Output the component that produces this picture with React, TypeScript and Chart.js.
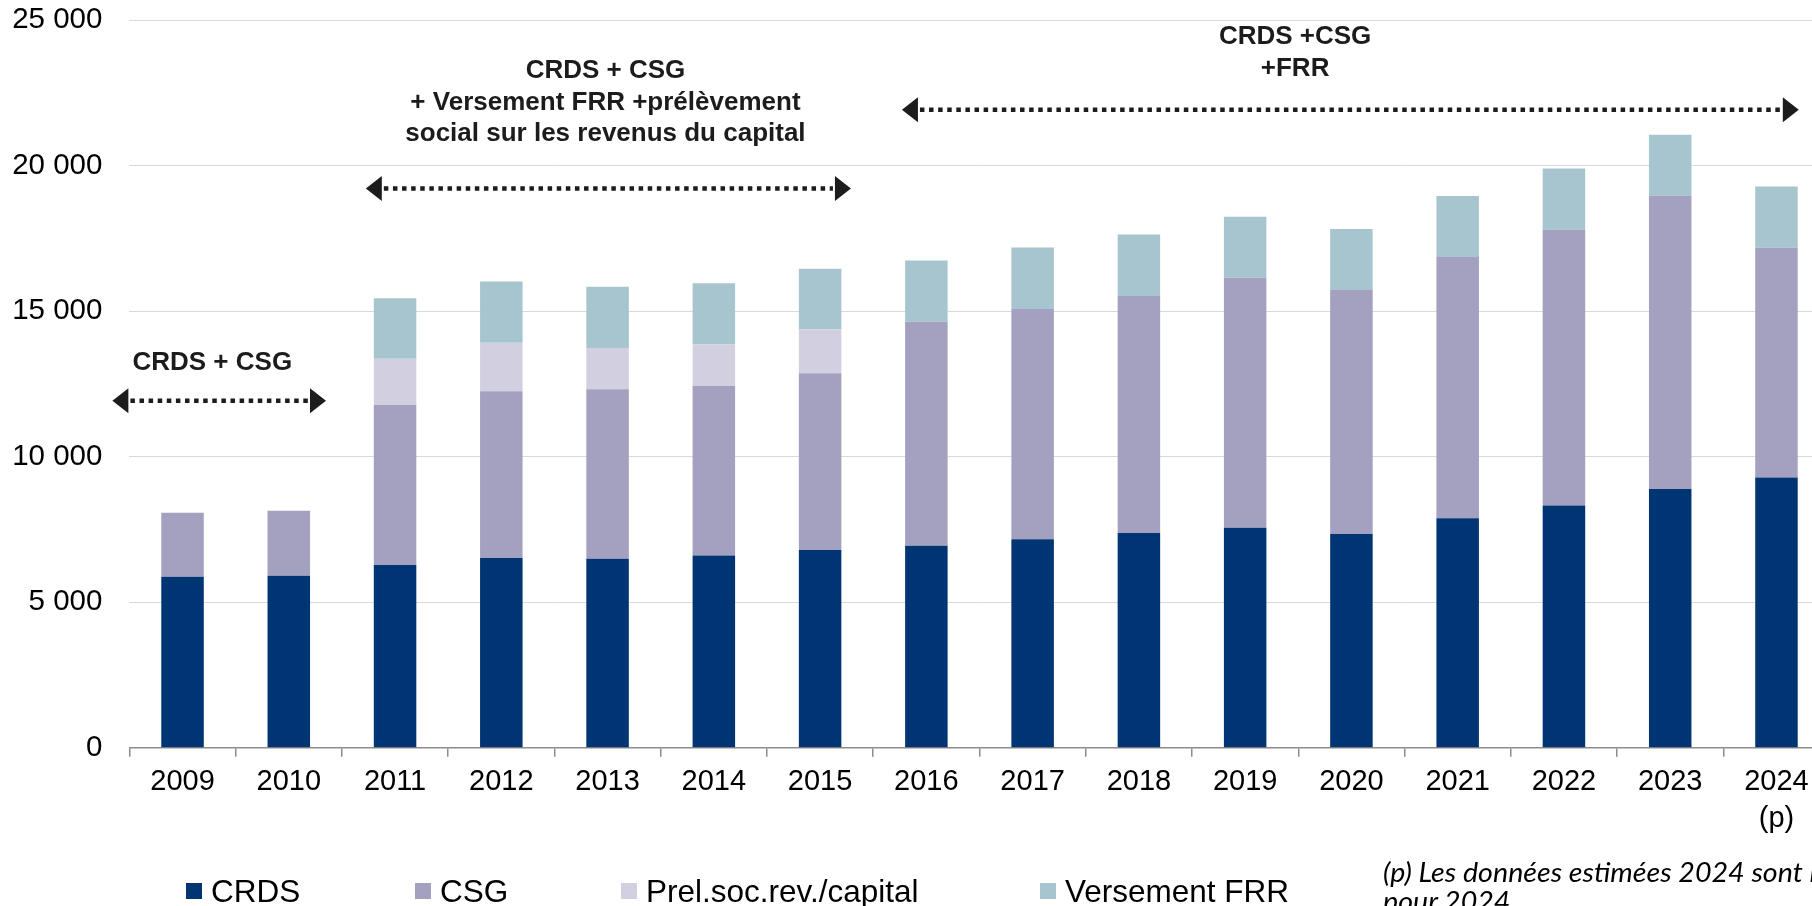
import { useEffect, useRef } from 'react';
import { Chart, registerables } from 'chart.js';

Chart.register(...registerables);

// ---- Data ----
const tickLabels: (string | string[])[] = [
  '2009', '2010', '2011', '2012', '2013', '2014', '2015', '2016',
  '2017', '2018', '2019', '2020', '2021', '2022', '2023', ['2024', '(p)'],
];
const crds = [5880, 5910, 6280, 6520, 6500, 6610, 6800, 6940, 7170, 7380, 7560, 7350, 7890, 8330, 8890, 9290];
const csg = [2200, 2235, 5500, 5730, 5820, 5820, 6070, 7700, 7910, 8150, 8590, 8380, 8980, 9480, 10080, 7890];
const prelCapital = [null, null, 1590, 1670, 1420, 1440, 1510, null, null, null, null, null, null, null, null, null];
const versementFRR = [null, null, 2080, 2100, 2100, 2090, 2080, 2110, 2110, 2110, 2100, 2100, 2090, 2100, 2100, 2110];
const seriesNames = ['CRDS', 'CSG', 'Prel.soc.rev./capital', 'Versement FRR'];
const seriesColors = ['#003573', '#A3A0C0', '#D2D0E0', '#A7C5CE'];
const yTickValues = [0, 5000, 10000, 15000, 20000, 25000];

// annotation texts (anchored in category index / value coordinates)
const noteTexts = [
  { lines: ['CRDS + CSG'], at: 0.28, value: 13290 },
  { lines: ['CRDS + CSG', '+ Versement FRR +prélèvement', 'social sur les revenus du capital'], at: 3.98, value: 23330 },
  { lines: ['CRDS +CSG', '+FRR'], at: 10.47, value: 24490 },
];
const noteArrows = [
  { from: -0.66, to: 1.35, value: 11930 },
  { from: 1.725, to: 6.29, value: 19224 },
  { from: 6.77, to: 15.21, value: 21925 },
];
const footnoteLines = ['(p) Les données estimées 2024 sont issues de la LFSS', 'pour 2024'];

const FONT = "'Liberation Sans', Arial, Helvetica, sans-serif";

const fmt = (v: number) => String(v).replace(/\B(?=(\d{3})+(?!\d))/g, ' ');

const annotationPlugin = {
  id: 'periodAnnotations',
  afterDatasetsDraw(chart: any) {
    const { ctx } = chart;
    const xs = chart.scales.x;
    const ys = chart.scales.y;
    ctx.save();
    const ink = '#1c1c1c';
    // arrows
    for (const a of noteArrows) {
      const x1 = xs.getPixelForValue(a.from);
      const x2 = xs.getPixelForValue(a.to);
      const yy = ys.getPixelForValue(a.value);
      const head = 16;
      const half = 12.5;
      ctx.strokeStyle = ink;
      ctx.lineWidth = 4.5;
      ctx.lineCap = 'butt';
      ctx.setLineDash([4.5, 4.6]);
      ctx.beginPath();
      ctx.moveTo(x1 + head + 2, yy);
      ctx.lineTo(x2 - head - 2, yy);
      ctx.stroke();
      ctx.setLineDash([]);
      ctx.fillStyle = ink;
      ctx.beginPath();
      ctx.moveTo(x1, yy);
      ctx.lineTo(x1 + head, yy - half);
      ctx.lineTo(x1 + head, yy + half);
      ctx.closePath();
      ctx.fill();
      ctx.beginPath();
      ctx.moveTo(x2, yy);
      ctx.lineTo(x2 - head, yy - half);
      ctx.lineTo(x2 - head, yy + half);
      ctx.closePath();
      ctx.fill();
    }
    // texts
    ctx.fillStyle = ink;
    ctx.font = `bold 26px ${FONT}`;
    ctx.textAlign = 'center';
    ctx.textBaseline = 'alphabetic';
    for (const t of noteTexts) {
      const cx = xs.getPixelForValue(t.at);
      const cy = ys.getPixelForValue(t.value);
      t.lines.forEach((line, i) => {
        ctx.fillText(line, cx, cy + 9.3 + i * 31.5);
      });
    }
    ctx.restore();
  },
};

const CANVAS_W = 1840;
const CANVAS_H = 906;

export default function App() {
  const canvasRef = useRef<HTMLCanvasElement | null>(null);

  useEffect(() => {
    if (!canvasRef.current) return;
    const seriesData = [crds, csg, prelCapital, versementFRR];
    const chart = new Chart(canvasRef.current, {
      type: 'bar',
      data: {
        labels: tickLabels as any,
        datasets: seriesData.map((d, i) => ({
          label: seriesNames[i],
          data: d as any,
          backgroundColor: seriesColors[i],
          borderWidth: 0,
          barPercentage: 0.4,
          categoryPercentage: 1,
        })),
      },
      options: {
        responsive: false,
        maintainAspectRatio: false,
        animation: false,
        layout: { padding: { left: 0, right: CANVAS_W - 1829.6, top: 20.3, bottom: CANVAS_H - 747.8 - 100 } },
        plugins: {
          legend: { display: false },
          tooltip: { enabled: false },
          title: { display: false },
        },
        scales: {
          x: {
            stacked: true,
            afterFit: (s: any) => { s.height = 100; s.paddingLeft = 0; s.paddingRight = 0; },
            border: { display: true, color: '#8C8C8C', width: 1.5 },
            grid: {
              display: true,
              drawOnChartArea: false,
              drawTicks: true,
              tickLength: 9,
              color: '#8C8C8C',
              lineWidth: 1.5,
              offset: true,
            },
            ticks: {
              color: '#000',
              padding: 7,
              maxRotation: 0,
              autoSkip: false,
              font: { family: FONT, size: 29, lineHeight: 1.26 },
            },
          },
          y: {
            stacked: true,
            min: 0,
            max: 25000,
            afterFit: (s: any) => { s.width = 129.4; s.paddingTop = 0; s.paddingBottom = 0; },
            afterBuildTicks: (s: any) => { s.ticks = yTickValues.map((v) => ({ value: v })); },
            border: { display: false },
            grid: { color: '#D9D9D9', lineWidth: 1, drawTicks: false },
            ticks: {
              color: '#000',
              padding: 27,
              font: { family: FONT, size: 29.5 },
              callback: (v: any) => fmt(Number(v)),
            },
          },
        },
      },
      plugins: [annotationPlugin],
    });
    return () => chart.destroy();
  }, []);

  const legendLeft = [186, 415, 621, 1040];

  return (
    <div style={{ position: 'fixed', left: 0, top: 0, width: 1812, height: 906, overflow: 'hidden', background: '#fff' }}>
      <canvas
        ref={canvasRef}
        width={CANVAS_W}
        height={CANVAS_H}
        style={{ position: 'absolute', left: 0, top: 0, width: CANVAS_W, height: CANVAS_H, display: 'block' }}
      />
      {seriesNames.map((name, i) => (
        <div
          key={name}
          style={{
            position: 'absolute', left: legendLeft[i], top: 876, height: 30,
            display: 'flex', alignItems: 'center', whiteSpace: 'nowrap',
            fontFamily: FONT, fontSize: 31.5, lineHeight: '30px', color: '#000',
          }}
        >
          <span style={{ display: 'inline-block', width: 16, height: 16, background: seriesColors[i], marginRight: 9 }} />
          <span>{name}</span>
        </div>
      ))}
      <div
        style={{
          position: 'absolute', left: 1383, top: 857, whiteSpace: 'nowrap',
          fontFamily: "Lato, 'Open Sans', sans-serif", fontStyle: 'italic', fontSize: 27,
          lineHeight: '29px', color: '#000', transform: 'scaleX(1.06)', transformOrigin: 'left top',
        }}
      >
        {footnoteLines.map((l) => (<div key={l}>{l}</div>))}
      </div>
    </div>
  );
}
